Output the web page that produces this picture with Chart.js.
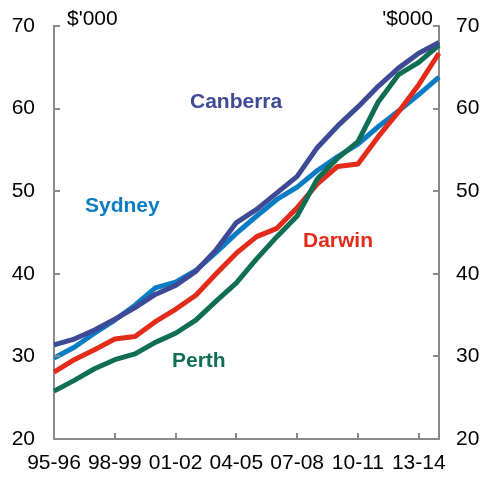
<!DOCTYPE html>
<html>
<head>
<meta charset="utf-8">
<script src="https://cdn.jsdelivr.net/npm/chart.js@4/dist/chart.umd.min.js"></script>
<style>
html,body{margin:0;padding:0;background:#fff;}
#wrap{width:480px;height:477px;}
</style>
</head>
<body>
<div id="wrap"><canvas id="c" width="480" height="477"></canvas></div>
<script>
const years = ["95-96","96-97","97-98","98-99","99-00","00-01","01-02","02-03","03-04","04-05","05-06","06-07","07-08","08-09","09-10","10-11","11-12","12-13","13-14","14-15"];
const canberra = [31.4,32.1,33.2,34.5,35.9,37.5,38.6,40.3,42.9,46.2,47.8,49.8,51.8,55.3,57.9,60.2,62.7,64.9,66.7,68.0];
const sydney   = [29.8,31.1,32.8,34.4,36.2,38.3,39.0,40.4,42.6,44.9,47.0,49.0,50.5,52.5,54.2,55.7,57.8,59.7,61.7,63.8];
const darwin   = [28.1,29.6,30.8,32.1,32.4,34.2,35.7,37.4,40.0,42.5,44.5,45.5,48.0,50.9,53.0,53.3,56.6,59.6,62.9,66.7];
const perth    = [25.8,27.1,28.5,29.6,30.3,31.7,32.8,34.4,36.7,38.9,41.8,44.5,47.0,51.5,54.0,56.0,60.8,64.1,65.6,67.7];
const yTicks = [20,30,40,50,60,70];
const unitLeft = "$'000";
const unitRight = "'$000";
const seriesLabels = ["Canberra","Sydney","Darwin","Perth"];

const COL = {Canberra:"#3F4A96", Sydney:"#0A7CC4", Darwin:"#E32B1A", Perth:"#0F6E53"};
const FONT = "'Liberation Sans', Arial, Helvetica, sans-serif";
const AXIS = "#8A8A8A";
const FS = 21;

const overlay = {
  id: 'overlay',
  afterDraw(chart) {
    const ctx = chart.ctx;
    const a = chart.chartArea;
    const yl = chart.scales.y, x = chart.scales.x;
    ctx.save();
    ctx.strokeStyle = AXIS;
    ctx.lineWidth = 2;
    ctx.beginPath();
    yTicks.forEach(v => {
      const py = Math.round(yl.getPixelForValue(v));
      ctx.moveTo(a.left, py); ctx.lineTo(a.left + 6, py);
      ctx.moveTo(a.right - 6, py); ctx.lineTo(a.right, py);
    });
    years.forEach((c, i) => {
      if (i % 3 === 0 && i > 0) {
        const px = Math.round(x.getPixelForValue(i));
        ctx.moveTo(px, a.bottom); ctx.lineTo(px, a.bottom - 6);
      }
    });
    ctx.stroke();
    ctx.fillStyle = "#000";
    ctx.font = FS + "px " + FONT;
    ctx.textBaseline = "alphabetic";
    ctx.textAlign = "left";
    ctx.fillText(unitLeft, a.left + 13, 25);
    ctx.textAlign = "right";
    ctx.fillText(unitRight, a.right - 6, 25);
    ctx.font = "bold " + FS + "px " + FONT;
    ctx.textAlign = "left";
    const pos = {Canberra:[190,108], Sydney:[85,212], Darwin:[303,247], Perth:[172,367]};
    seriesLabels.forEach(n => {
      ctx.fillStyle = COL[n];
      ctx.fillText(n, pos[n][0], pos[n][1]);
    });
    ctx.restore();
  }
};

const ds = (label, data) => ({
  label, data,
  borderColor: COL[label], backgroundColor: COL[label],
  borderWidth: 5, pointRadius: 0, pointHoverRadius: 0,
  tension: 0, fill: false, borderJoinStyle: 'round', yAxisID: 'y'
});

new Chart(document.getElementById('c'), {
  type: 'line',
  data: {
    labels: years,
    datasets: [ds("Canberra", canberra), ds("Perth", perth), ds("Darwin", darwin), ds("Sydney", sydney)]
  },
  options: {
    responsive: false,
    animation: false,
    devicePixelRatio: 1,
    layout: { padding: { top: 26, left: 0, right: 0, bottom: 0 } },
    plugins: { legend: { display: false }, tooltip: { enabled: false } },
    scales: {
      x: {
        type: 'category',
        offset: false,
        grid: { display: true, drawOnChartArea: false, drawTicks: false },
        border: { display: true, color: AXIS, width: 2 },
        ticks: {
          autoSkip: false, maxRotation: 0, minRotation: 0, padding: 12,
          color: "#000", font: { family: FONT, size: FS },
          callback: function(v, i) { return (i % 3 === 0 && i < 19) ? years[i] : null; }
        },
        afterFit(s) { s.height = 38; }
      },
      y: {
        position: 'left', min: 20, max: 70,
        grid: { display: true, drawOnChartArea: false, drawTicks: false },
        border: { display: true, color: AXIS, width: 2 },
        ticks: { stepSize: 10, padding: 19, color: "#000", font: { family: FONT, size: FS, lineHeight: 0.3 } },
        afterFit(s) { s.width = 54; }
      },
      y2: {
        position: 'right', min: 20, max: 70,
        grid: { display: true, drawOnChartArea: false, drawTicks: false },
        border: { display: true, color: AXIS, width: 2 },
        ticks: { stepSize: 10, padding: 17, color: "#000", font: { family: FONT, size: FS, lineHeight: 0.3 } },
        afterFit(s) { s.width = 41; }
      }
    }
  },
  plugins: [overlay]
});
</script>
</body>
</html>
